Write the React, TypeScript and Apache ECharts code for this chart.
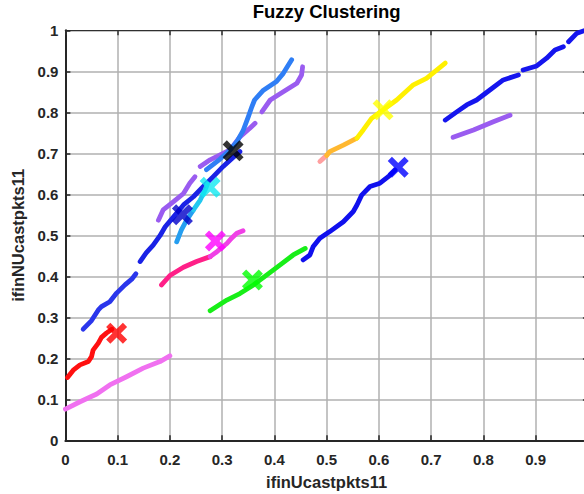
import React, { useEffect, useRef } from "react";
import * as echarts from "echarts";

// ---- data ----
const redLine = [[0.004,0.153],[0.015,0.171],[0.028,0.184],[0.044,0.192],[0.05,0.204],[0.053,0.22],[0.063,0.237],[0.069,0.251],[0.079,0.262],[0.089,0.271]];
const violetLine = [[0,0.076],[0.028,0.094],[0.06,0.113],[0.085,0.135],[0.117,0.155],[0.149,0.176],[0.181,0.192],[0.2,0.206]];
const blueLowA = [[0.034,0.271],[0.05,0.292],[0.063,0.318],[0.069,0.326],[0.085,0.338],[0.098,0.359],[0.114,0.379],[0.127,0.393],[0.135,0.406]];
const blueLowB = [[0.143,0.436],[0.155,0.458],[0.168,0.476],[0.181,0.499],[0.191,0.521],[0.207,0.545],[0.226,0.574],[0.245,0.594],[0.264,0.619],[0.283,0.643],[0.302,0.668],[0.321,0.69],[0.334,0.704]];
const dodgerLine = [[0.27,0.66],[0.296,0.686],[0.315,0.708],[0.328,0.728],[0.34,0.755],[0.35,0.789],[0.357,0.814],[0.362,0.83],[0.379,0.854],[0.404,0.875],[0.417,0.895],[0.433,0.928]];
const purpleUp1 = [[0.178,0.537],[0.187,0.562],[0.207,0.582],[0.226,0.602],[0.238,0.627],[0.248,0.643]];
const purpleUp2 = [[0.258,0.668],[0.277,0.684],[0.296,0.696],[0.315,0.708],[0.334,0.74],[0.353,0.761],[0.363,0.773]];
const purpleUp3 = [[0.376,0.801],[0.392,0.83],[0.417,0.85],[0.443,0.871],[0.452,0.891],[0.454,0.911]];
const cyanLow = [[0.213,0.484],[0.222,0.513],[0.232,0.537],[0.245,0.562]];
const cyanHigh = [[0.245,0.562],[0.258,0.586],[0.267,0.61],[0.272,0.625]];
const pinkLine = [[0.184,0.379],[0.2,0.402],[0.226,0.422],[0.251,0.436],[0.277,0.448]];
const magentaLine = [[0.277,0.448],[0.29,0.46],[0.309,0.48],[0.318,0.493],[0.328,0.505],[0.34,0.511]];
const greenLine = [[0.277,0.316],[0.309,0.342],[0.334,0.358],[0.36,0.379],[0.385,0.403],[0.411,0.428],[0.436,0.452],[0.459,0.468]];
const blueMid = [[0.455,0.44],[0.468,0.452],[0.474,0.472],[0.487,0.493],[0.506,0.509],[0.532,0.533],[0.551,0.558],[0.558,0.574],[0.567,0.598],[0.583,0.619],[0.602,0.627],[0.618,0.643],[0.631,0.659]];
const salmonLine = [[0.487,0.68],[0.5,0.695]];
const orangeLine = [[0.5,0.695],[0.506,0.704],[0.532,0.72],[0.558,0.737]];
const yellowLine = [[0.558,0.737],[0.57,0.757],[0.586,0.785],[0.608,0.806],[0.634,0.83],[0.666,0.867],[0.691,0.883],[0.727,0.92]];
const blueHigh1 = [[0.727,0.781],[0.749,0.801],[0.768,0.818],[0.787,0.83],[0.813,0.855],[0.838,0.879],[0.867,0.891]];
const blueHigh2 = [[0.876,0.903],[0.902,0.913],[0.921,0.932],[0.937,0.952],[0.953,0.96]];
const blueHigh3 = [[0.963,0.972],[0.979,0.993],[0.995,1.0]];
const purpleRight = [[0.742,0.739],[0.781,0.757],[0.819,0.777],[0.851,0.793]];

const centerRed = [0.098, 0.261];
const centerNavy = [0.224, 0.55];
const centerCyan = [0.277, 0.617];
const centerMagenta = [0.287, 0.486];
const centerBlack = [0.321, 0.706];
const centerGreen = [0.358, 0.391];
const centerYellow = [0.608, 0.806];
const centerBlue = [0.637, 0.666];

const FONT = "'Liberation Sans', Arial, Helvetica, sans-serif";
const X_PATH = "path://M0,2L2,0L5,3L8,0L10,2L7,5L10,8L8,10L5,7L2,10L0,8L3,5Z";

export default function App() {
  const ref = useRef<HTMLDivElement>(null);
  useEffect(() => {
    if (!ref.current) return;
    const chart = echarts.init(ref.current, undefined, { renderer: "svg" });

    const segments: [number[][], string][] = [
      [violetLine, "#f070f0"],
      [redLine, "#ff1010"],
      [blueLowA, "#2a36ec"],
      [purpleUp1, "#9a5cf0"],
      [purpleUp2, "#9a5cf0"],
      [purpleUp3, "#9a5cf0"],
      [dodgerLine, "#2f7ef5"],
      [blueLowB, "#1a22e6"],
      [cyanLow, "#259ef0"],
      [cyanHigh, "#22c8f0"],
      [pinkLine, "#ff2088"],
      [magentaLine, "#f040e6"],
      [greenLine, "#18ee18"],
      [blueMid, "#1010ee"],
      [salmonLine, "#ffa0a0"],
      [orangeLine, "#ffb830"],
      [yellowLine, "#fff000"],
      [blueHigh1, "#1515ee"],
      [blueHigh2, "#1515ee"],
      [blueHigh3, "#1515ee"],
      [purpleRight, "#9a5cf0"],
    ];
    const centers: [number[], string][] = [
      [centerRed, "#ff0000"],
      [centerNavy, "#0000c8"],
      [centerCyan, "#10e8f0"],
      [centerMagenta, "#ff00ff"],
      [centerBlack, "#000000"],
      [centerGreen, "#00ff00"],
      [centerYellow, "#ffff00"],
      [centerBlue, "#0000ff"],
    ];

    const series: any[] = [];
    segments.forEach(([d, c]) => {
      series.push({
        type: "line",
        data: d,
        showSymbol: false,
        silent: true,
        z: 2,
        lineStyle: { width: 4.8, color: c, cap: "round", join: "round" },
      });
    });
    centers.forEach(([p, c]) => {
      series.push({
        type: "scatter",
        data: [p],
        symbol: X_PATH,
        symbolSize: 21,
        silent: true,
        z: 5,
        itemStyle: { color: c },
      });
    });

    const gridL = 65.4, gridT = 30.3, gridW = 522.5, gridH = 410;

    chart.setOption({
      animation: false,
      backgroundColor: "#ffffff",
      title: {
        text: "Fuzzy Clustering",
        left: gridL + gridW / 2,
        textAlign: "center",
        top: 2,
        padding: 0,
        textStyle: { fontFamily: FONT, fontWeight: "bold", fontSize: 18.5, color: "#000" },
      },
      grid: { left: gridL, top: gridT, width: gridW, height: gridH, containLabel: false, outerBoundsMode: "none" },
      xAxis: [
        {
          type: "value",
          min: 0,
          max: 1,
          interval: 0.1,
          name: "ifinUcastpkts11",
          nameLocation: "middle",
          nameGap: 33,
          nameTextStyle: { fontFamily: FONT, fontWeight: "bold", fontSize: 16.5, color: "#262626" },
          axisLine: { show: true, onZero: false, lineStyle: { color: "#262626", width: 2 } },
          axisTick: { show: true, inside: true, length: 5, lineStyle: { color: "#262626", width: 1.5 } },
          axisLabel: {
            show: true,
            margin: 12,
            fontFamily: FONT,
            fontWeight: "bold",
            fontSize: 15,
            color: "#262626",
            showMaxLabel: true,
            showMinLabel: true,
            hideOverlap: false,
          },
          splitLine: { show: true, lineStyle: { color: "#b0b0b0", width: 1.5 } },
        },
        {
          type: "value",
          position: "top",
          min: 0,
          max: 1,
          interval: 0.1,
          axisLine: { show: true, onZero: false, lineStyle: { color: "#303030", width: 1.2 } },
          axisTick: { show: true, inside: true, length: 5, lineStyle: { color: "#303030", width: 1.5 } },
          axisLabel: { show: false },
          splitLine: { show: false },
        },
      ],
      yAxis: [
        {
          type: "value",
          min: 0,
          max: 1,
          interval: 0.1,
          name: "ifinNUcastpkts11",
          nameLocation: "middle",
          nameGap: 32,
          nameTextStyle: { fontFamily: FONT, fontWeight: "bold", fontSize: 16.5, color: "#262626" },
          axisLine: { show: true, onZero: false, lineStyle: { color: "#262626", width: 2 } },
          axisTick: { show: true, inside: true, length: 5, lineStyle: { color: "#262626", width: 1.5 } },
          axisLabel: {
            show: true,
            margin: 7,
            fontFamily: FONT,
            fontWeight: "bold",
            fontSize: 15,
            color: "#262626",
            showMaxLabel: true,
            showMinLabel: true,
          },
          splitLine: { show: true, lineStyle: { color: "#b0b0b0", width: 1.5 } },
        },
        {
          type: "value",
          position: "right",
          min: 0,
          max: 1,
          interval: 0.1,
          axisLine: { show: true, onZero: false, lineStyle: { color: "#303030", width: 1.2 } },
          axisTick: { show: true, inside: true, length: 5, lineStyle: { color: "#303030", width: 1.5 } },
          axisLabel: { show: false },
          splitLine: { show: false },
        },
      ],
      series,
    });

    return () => chart.dispose();
  }, []);

  return (
    <div
      ref={ref}
      style={{ position: "absolute", left: 0, top: 0, width: 584, height: 494 }}
    />
  );
}
